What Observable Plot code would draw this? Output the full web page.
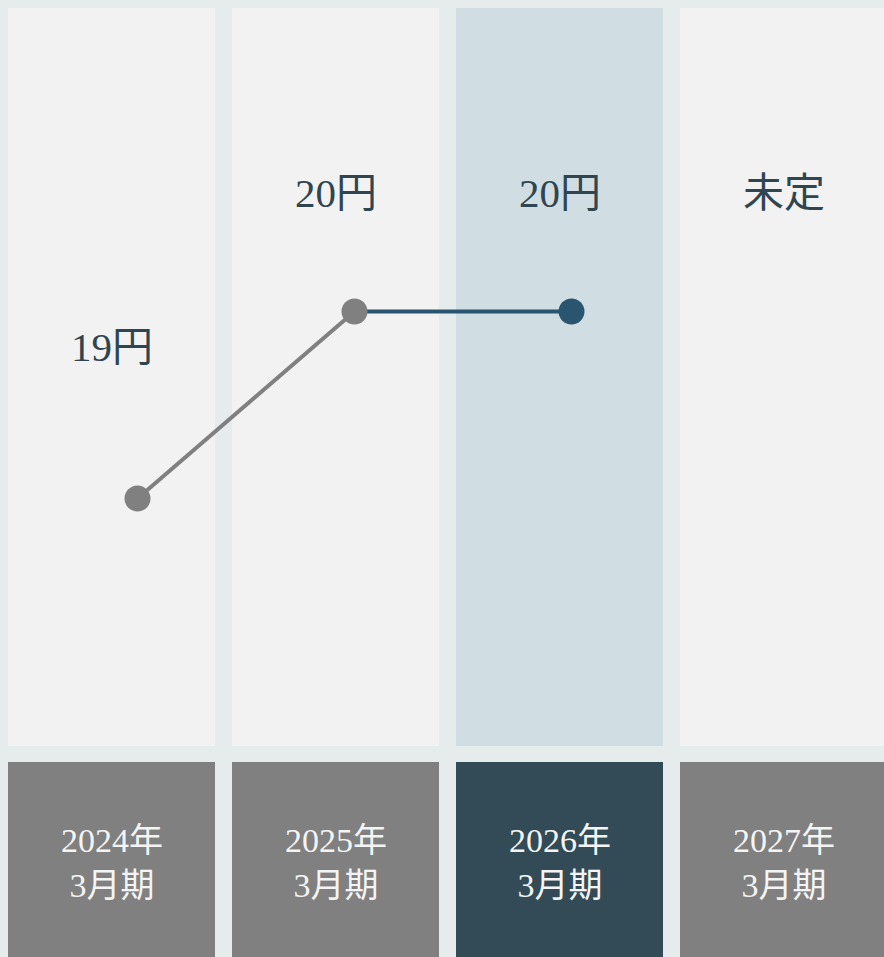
<!DOCTYPE html>
<html>
<head>
<meta charset="utf-8">
<script src="https://cdn.jsdelivr.net/npm/d3@7"></script>
<script src="https://cdn.jsdelivr.net/npm/@observablehq/plot@0.6"></script>
<style>
  html, body { margin: 0; padding: 0; background: #e6ebec; }
  #chart { position: relative; width: 884px; height: 957px; overflow: hidden; }
  #chart svg { position: absolute; left: 0; }
  #chart svg text { font-family: "Liberation Serif", "DejaVu Serif", "Noto Sans CJK JP", serif !important; }
</style>
</head>
<body>
<div id="chart"></div>
<script>
// ---- data ----
const categories = ["2024年3月期", "2025年3月期", "2026年3月期", "2027年3月期"];
const yearLabels = ["2024年", "2025年", "2026年", "2027年"];
const periodLabel = "3月期";
const dividends = [19, 20, 20, null];
const dividendLabels = ["19円", "20円", "20円", "未定"];
const highlightCategory = "2026年3月期";
const lastActualCategory = "2025年3月期";

// ---- styles ----
const bg = "#e6ebec";
const panelFill = "#f2f2f2";
const panelHighlight = "#d0dde3";
const boxFill = "#808080";
const boxHighlight = "#324b56";
const actualColor = "#808080";
const forecastColor = "#2a5570";
const textColor = "#2f4550";
const serif = "Liberation Serif, DejaVu Serif, Noto Sans CJK JP, serif";

const W = 884, topH = 754, bottomH = 203;
const rows = categories.map((c, i) => ({
  cat: c,
  year: yearLabels[i],
  value: dividends[i],
  label: dividendLabels[i],
  hl: c === highlightCategory
}));
const labelLevel = d3.max(dividends);

const xBand = {type: "band", domain: categories, range: [8, 888], paddingInner: 0.075, paddingOuter: 0, axis: null};

// top panel plot
const topPlot = Plot.plot({
  width: W, height: topH,
  marginTop: 8, marginBottom: 8, marginLeft: 8, marginRight: 0,
  style: {background: bg},
  x: xBand,
  y: {domain: [19, 20], range: [347, 193], axis: null},
  marks: [
    Plot.cell(rows, {x: "cat", fill: d => d.hl ? panelHighlight : panelFill}),
    Plot.text(rows, {
      x: "cat", y: d => d.value ?? labelLevel, text: "label",
      fontSize: 41, fill: textColor, fontFamily: serif
    })
  ]
});
topPlot.style.top = "0px";

// line overlay plot
const pts = rows.filter(d => d.value != null);
const segs = [];
pts.forEach((d, i) => {
  if (i === 0) return;
  const prev = pts[i - 1];
  const isForecast = categories.indexOf(d.cat) > categories.indexOf(lastActualCategory);
  const seg = "s" + i;
  const color = isForecast ? forecastColor : actualColor;
  segs.push({cat: prev.cat, value: prev.value, seg, color});
  segs.push({cat: d.cat, value: d.value, seg, color});
});
const linePlot = Plot.plot({
  width: W, height: topH,
  margin: 0,
  style: {background: "transparent"},
  x: {type: "point", domain: categories, range: [136, 789], padding: 0, axis: null},
  y: {domain: [19, 20], range: [498, 311], axis: null},
  marks: [
    Plot.line(segs, {x: "cat", y: "value", z: "seg", stroke: d => d.color, strokeWidth: 4}),
    Plot.dot(pts, {
      x: "cat", y: "value", r: 13,
      fill: d => categories.indexOf(d.cat) > categories.indexOf(lastActualCategory) ? forecastColor : actualColor
    })
  ]
});
linePlot.style.top = "0px";

// bottom label boxes
const bottomPlot = Plot.plot({
  width: W, height: bottomH,
  marginTop: 8, marginBottom: 0, marginLeft: 8, marginRight: 0,
  style: {background: bg},
  x: xBand,
  marks: [
    Plot.cell(rows, {x: "cat", fill: d => d.hl ? boxHighlight : boxFill}),
    Plot.text(rows, {
      x: "cat", text: d => d.year + "\n" + periodLabel,
      fontSize: 34, lineHeight: 1.32, fill: "#f4f4f4", fontFamily: serif
    })
  ]
});
bottomPlot.style.top = topH + "px";

const chart = document.getElementById("chart");
chart.append(topPlot, linePlot, bottomPlot);
</script>
</body>
</html>
